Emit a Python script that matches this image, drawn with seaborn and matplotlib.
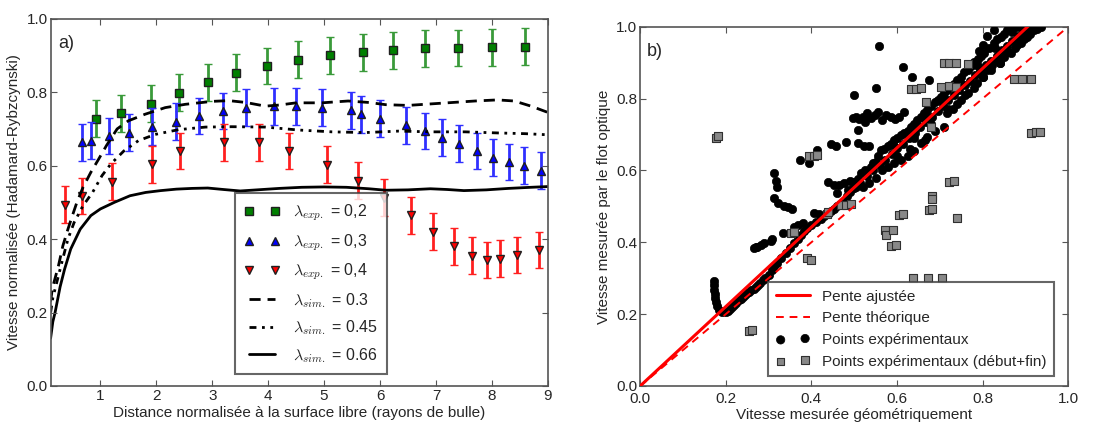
import numpy as np
import pandas as pd
import matplotlib
matplotlib.use("Agg")
import matplotlib.pyplot as plt
import seaborn as sns

# ---- panel a) : experimental points (distance, normalised velocity) ----
green_x = [0.93, 1.375, 1.91, 2.40, 2.92, 3.43, 3.98, 4.54, 5.11, 5.70, 6.24, 6.81, 7.40, 8.0, 8.6]
green_y = [0.728, 0.742, 0.769, 0.799, 0.827, 0.853, 0.871, 0.889, 0.900, 0.909, 0.914, 0.919, 0.920, 0.922, 0.924]

blue_x = [0.67, 0.84, 1.15, 1.52, 1.93, 2.35, 2.77, 3.20, 3.61, 4.10, 4.50, 4.97, 5.48, 5.66,
          6.0, 6.47, 6.80, 7.11, 7.42, 7.73, 8.02, 8.31, 8.58, 8.88]
blue_y = [0.663, 0.668, 0.681, 0.690, 0.706, 0.720, 0.735, 0.749, 0.758, 0.762, 0.762, 0.758, 0.751, 0.740,
          0.728, 0.710, 0.694, 0.676, 0.660, 0.640, 0.622, 0.610, 0.600, 0.586]

red_x = [0.375, 0.67, 1.21, 1.93, 2.43, 3.21, 3.83, 4.38, 5.05, 5.60, 6.08, 6.55, 6.95, 7.32,
         7.65, 7.92, 8.14, 8.45, 8.85]
red_y = [0.494, 0.517, 0.556, 0.604, 0.640, 0.663, 0.663, 0.640, 0.603, 0.559, 0.513, 0.465, 0.420, 0.380,
         0.355, 0.343, 0.347, 0.357, 0.370]

err = 0.05

# ---- panel a) : simulations ----
sim03_x = [0.11, 0.14, 0.17, 0.25, 0.33, 0.42, 0.5, 0.58, 0.69, 0.83, 0.97, 1.11, 1.3, 1.5, 1.8, 2.16,
           2.52, 3.0, 3.3, 3.6, 3.95, 4.2, 4.5, 4.96, 5.43, 5.8, 6.1, 6.5, 7.1, 7.7, 8.1, 8.4, 8.7, 9.0]
sim03_y = [0.23, 0.264, 0.282, 0.327, 0.382, 0.427, 0.464, 0.5, 0.541, 0.582, 0.618, 0.655, 0.7, 0.722, 0.74, 0.758,
           0.767, 0.775, 0.777, 0.772, 0.762, 0.765, 0.771, 0.771, 0.776, 0.772, 0.766, 0.764, 0.77, 0.776, 0.779, 0.776, 0.762, 0.745]

sim045_x = [0.11, 0.15, 0.19, 0.31, 0.42, 0.53, 0.69, 0.86, 1.03, 1.19, 1.42, 1.68, 1.98, 2.4, 2.88,
            3.35, 3.95, 4.54, 5.14, 5.73, 6.33, 6.92, 7.52, 8.11, 8.6, 9.0]
sim045_y = [0.2, 0.24, 0.264, 0.336, 0.4, 0.445, 0.491, 0.527, 0.573, 0.605, 0.64, 0.668, 0.685, 0.698, 0.705,
            0.706, 0.705, 0.697, 0.692, 0.69, 0.694, 0.692, 0.692, 0.689, 0.687, 0.684]

sim066_x = [0.11, 0.15, 0.19, 0.28, 0.36, 0.47, 0.64, 0.83, 1.0, 1.25, 1.53, 1.81, 2.08, 2.36, 2.64, 2.92,
            3.2, 3.5, 3.8, 4.2, 4.6, 5.0, 5.4, 5.8, 6.1, 6.5, 6.9, 7.2, 7.5, 7.9, 8.3, 8.7, 9.0]
sim066_y = [0.13, 0.175, 0.2, 0.27, 0.318, 0.373, 0.427, 0.464, 0.482, 0.5, 0.518, 0.527, 0.532, 0.536, 0.538, 0.539,
            0.535, 0.531, 0.534, 0.538, 0.541, 0.542, 0.541, 0.537, 0.533, 0.534, 0.537, 0.535, 0.532, 0.534, 0.538, 0.541, 0.543]

# ---- panel b) : optical flow vs geometric velocity ----
pts_geo = [0.173, 0.173, 0.173, 0.174, 0.175, 0.176, 0.179, 0.185, 0.192, 0.2, 0.205,
           0.21, 0.215, 0.22, 0.225, 0.23, 0.235, 0.24, 0.245, 0.25, 0.255, 0.26, 0.265, 0.27, 0.275, 0.28,
           0.286, 0.292, 0.3, 0.308, 0.313, 0.32, 0.329, 0.34, 0.35, 0.36, 0.368, 0.375, 0.383, 0.39, 0.4,
           0.41, 0.422, 0.43, 0.438, 0.445, 0.453, 0.46, 0.469, 0.475,
           0.266, 0.27, 0.274, 0.282, 0.29, 0.305, 0.309, 0.333, 0.36, 0.368, 0.38, 0.407, 0.418,
           0.313, 0.317, 0.32, 0.313, 0.322, 0.335, 0.345, 0.355,
           0.374, 0.395, 0.414, 0.447, 0.457, 0.48, 0.508, 0.523, 0.535, 0.508, 0.5, 0.551, 0.558, 0.613,
           0.636, 0.675,
           0.497, 0.505, 0.512, 0.52, 0.53, 0.54, 0.548, 0.556, 0.565, 0.575, 0.585, 0.595, 0.605, 0.617, 0.525,
           0.438, 0.453, 0.465, 0.477, 0.49, 0.5, 0.461, 0.485, 0.5, 0.51, 0.516, 0.525, 0.539, 0.545, 0.555,
           0.562, 0.57, 0.578, 0.585, 0.593, 0.6, 0.61, 0.617, 0.625, 0.632, 0.64, 0.648, 0.656, 0.663, 0.671,
           0.68, 0.688, 0.695, 0.703, 0.71, 0.718, 0.726, 0.733, 0.741, 0.75, 0.757, 0.765, 0.772, 0.78, 0.79,
           0.796, 0.804, 0.815, 0.827, 0.835, 0.843, 0.85, 0.858, 0.866, 0.88, 0.827, 0.81,
           0.52, 0.535, 0.55, 0.565, 0.58, 0.593, 0.61, 0.625, 0.64, 0.656, 0.665, 0.671, 0.69, 0.71, 0.718,
           0.73, 0.75, 0.765, 0.78, 0.788, 0.8, 0.811, 0.823, 0.835, 0.85, 0.866, 0.875, 0.889, 0.897, 0.905,
           0.912, 0.92, 0.928, 0.936, 0.792, 0.8, 0.82, 0.842, 0.86, 0.875, 0.741, 0.63,
           0.483, 0.49, 0.497, 0.505, 0.513, 0.53, 0.545, 0.56, 0.573, 0.588, 0.6, 0.615, 0.628, 0.643, 0.655,
           0.668, 0.682, 0.695, 0.707, 0.72, 0.733, 0.745, 0.758, 0.77, 0.783, 0.795, 0.808, 0.82, 0.833, 0.845,
           0.858, 0.87, 0.883, 0.895, 0.6, 0.64, 0.68, 0.72, 0.76, 0.8, 0.84, 0.88, 0.55, 0.59, 0.63, 0.67,
           0.71, 0.75, 0.79, 0.83, 0.87, 0.91, 0.9, 0.92, 0.925]
pts_flot = [0.293, 0.28, 0.268, 0.257, 0.246, 0.234, 0.222, 0.212, 0.206, 0.206, 0.21,
            0.215, 0.22, 0.225, 0.232, 0.238, 0.243, 0.248, 0.252, 0.258, 0.262, 0.266, 0.27, 0.276, 0.282, 0.287,
            0.295, 0.302, 0.31, 0.322, 0.335, 0.343, 0.355, 0.37, 0.385, 0.398, 0.41, 0.42, 0.432, 0.44, 0.448,
            0.456, 0.465, 0.472, 0.48, 0.487, 0.494, 0.5, 0.505, 0.51,
            0.383, 0.386, 0.388, 0.393, 0.397, 0.405, 0.41, 0.425, 0.444, 0.449, 0.455, 0.481, 0.478,
            0.593, 0.57, 0.555, 0.523, 0.51, 0.5, 0.497, 0.493,
            0.628, 0.62, 0.657, 0.674, 0.667, 0.68, 0.676, 0.667, 0.667, 0.713, 0.81, 0.829, 0.946, 0.889,
            0.861, 0.852,
            0.745, 0.75, 0.742, 0.748, 0.76, 0.745, 0.755, 0.762, 0.74, 0.755, 0.748, 0.742, 0.748, 0.762, 0.735,
            0.569, 0.56, 0.56, 0.565, 0.57, 0.569, 0.537, 0.545, 0.55, 0.575, 0.593, 0.6, 0.611, 0.62, 0.639,
            0.657, 0.66, 0.667, 0.675, 0.685, 0.69, 0.7, 0.704, 0.71, 0.722, 0.73, 0.74, 0.75, 0.76, 0.769,
            0.78, 0.79, 0.796, 0.805, 0.815, 0.824, 0.835, 0.84, 0.852, 0.86, 0.875, 0.88, 0.89, 0.903, 0.91,
            0.92, 0.926, 0.94, 0.954, 0.965, 0.972, 0.98, 0.991, 0.995, 1.0, 0.99, 0.975,
            0.555, 0.565, 0.58, 0.6, 0.61, 0.62, 0.63, 0.639, 0.655, 0.676, 0.685, 0.694, 0.71, 0.722, 0.759,
            0.77, 0.796, 0.815, 0.83, 0.843, 0.86, 0.88, 0.895, 0.907, 0.915, 0.926, 0.94, 0.954, 0.965, 0.972,
            0.98, 0.991, 0.995, 1.0, 0.934, 0.95, 0.88, 0.9, 0.93, 0.96, 0.785, 0.66,
            0.53, 0.54, 0.55, 0.555, 0.565, 0.585, 0.6, 0.615, 0.63, 0.645, 0.662, 0.675, 0.69, 0.705, 0.72,
            0.735, 0.75, 0.765, 0.78, 0.795, 0.81, 0.823, 0.838, 0.85, 0.865, 0.88, 0.893, 0.905, 0.92, 0.935,
            0.948, 0.96, 0.975, 0.988, 0.64, 0.69, 0.73, 0.77, 0.81, 0.86, 0.9, 0.95, 0.625, 0.67, 0.71, 0.75,
            0.8, 0.84, 0.89, 0.94, 0.985, 1.0, 0.995, 0.997, 1.0]

ends_geo = [0.178, 0.181, 0.395, 0.407, 0.414, 0.632, 0.644, 0.656, 0.710, 0.722, 0.738, 0.765,
            0.702, 0.722, 0.738, 0.667, 0.679, 0.874, 0.893, 0.913, 0.913, 0.924, 0.934,
            0.722, 0.734, 0.683, 0.683, 0.675, 0.683, 0.605, 0.613, 0.469, 0.48, 0.492,
            0.352, 0.36, 0.39, 0.398, 0.255, 0.262, 0.572, 0.575, 0.59, 0.587, 0.597,
            0.74, 0.637, 0.672, 0.705, 0.436, 0.44]
ends_flot = [0.69, 0.697, 0.639, 0.641, 0.643, 0.826, 0.827, 0.829, 0.898, 0.898, 0.898, 0.896,
             0.833, 0.834, 0.833, 0.792, 0.722, 0.856, 0.855, 0.854, 0.704, 0.706, 0.708,
             0.569, 0.571, 0.528, 0.52, 0.491, 0.493, 0.477, 0.478, 0.505, 0.505, 0.507,
             0.425, 0.428, 0.356, 0.352, 0.153, 0.155, 0.434, 0.42, 0.435, 0.39, 0.392,
             0.467, 0.30, 0.30, 0.30, 0.48, 0.485]

fit_slope = 1.105
theo_slope = 1.0
line_x = [0.0, 1.0]

sns.set_style("ticks")
plt.rcParams['font.family'] = ['Liberation Sans', 'DejaVu Sans']
plt.rcParams['mathtext.fontset'] = 'cm'
plt.rcParams['xtick.direction'] = 'in'
plt.rcParams['ytick.direction'] = 'in'
plt.rcParams['xtick.top'] = True
plt.rcParams['ytick.right'] = True

fig = plt.figure(figsize=(11, 4.26), dpi=100)
ax1 = fig.add_axes([0.046, 0.094, 0.452, 0.862])
ax2 = fig.add_axes([0.582, 0.094, 0.389, 0.843])

# panel a
exp_sets = [
    (green_x, green_y, 's', 'green', '#3a9a3a', r'$\lambda_{exp.}$ = 0,2'),
    (blue_x, blue_y, '^', 'blue', '#3030ff', r'$\lambda_{exp.}$ = 0,3'),
    (red_x, red_y, 'v', 'red', '#ff2020', r'$\lambda_{exp.}$ = 0,4'),
]
for xs, ys, mk, col, ecol, lab in exp_sets:
    ax1.errorbar(xs, ys, yerr=err, fmt='none', ecolor=ecol, elinewidth=2, capsize=3, capthick=1)
    ax1.plot(xs, ys, linestyle='none', marker=mk, color=col, markeredgecolor='#202020',
             markersize=5.5, label=lab)

sim = pd.DataFrame({'x': sim03_x, 'y': sim03_y})
sns.lineplot(data=sim, x='x', y='y', ax=ax1, color='k', lw=2, linestyle=(0, (4, 2.5)),
             label=r'$\lambda_{sim.}$ = 0.3')
sim = pd.DataFrame({'x': sim045_x, 'y': sim045_y})
sns.lineplot(data=sim, x='x', y='y', ax=ax1, color='k', lw=2, linestyle=(0, (2.5, 2, 1, 2, 1, 2)),
             label=r'$\lambda_{sim.}$ = 0.45')
sim = pd.DataFrame({'x': sim066_x, 'y': sim066_y})
sns.lineplot(data=sim, x='x', y='y', ax=ax1, color='k', lw=2, label=r'$\lambda_{sim.}$ = 0.66')

ax1.set_xlim(0.11, 9)
ax1.set_ylim(0, 1)
ax1.set_xticks(range(1, 10))
ax1.set_yticks(np.arange(0, 1.01, 0.2))
ax1.set_xlabel("Distance normalisée à la surface libre (rayons de bulle)", fontsize=11, labelpad=2)
ax1.set_ylabel("Vitesse normalisée (Hadamard-Rybzcynski)", fontsize=11, labelpad=4)
ax1.text(0.015, 0.955, "a)", transform=ax1.transAxes, fontsize=13, va='top')
leg = ax1.legend(loc='lower left', bbox_to_anchor=(0.355, 0.01), numpoints=2, fontsize=11.5,
                 fancybox=False, labelspacing=0.55, handlelength=2.2, borderpad=0.6)
leg.get_frame().set_edgecolor('#404040')
leg.get_frame().set_linewidth(1.5)

# panel b
sns.lineplot(x=line_x, y=[fit_slope * v for v in line_x], ax=ax2, color='red', lw=2.2,
             label="Pente ajustée", zorder=4)
sns.lineplot(x=line_x, y=[theo_slope * v for v in line_x], ax=ax2, color='red', lw=1.4,
             linestyle=(0, (4, 3)), label="Pente théorique", zorder=4)
sns.scatterplot(x=pts_geo, y=pts_flot, ax=ax2, color='black', marker='o', s=36,
                edgecolor='black', linewidth=0.5, label="Points expérimentaux", zorder=3)
sns.scatterplot(x=ends_geo, y=ends_flot, ax=ax2, color='#888888', marker='s', s=30,
                edgecolor='#303030', linewidth=0.8, label="Points expérimentaux (début+fin)", zorder=3)

ax2.set_xlim(0, 1)
ax2.set_ylim(0, 1)
ax2.set_xticks(np.arange(0, 1.01, 0.2))
ax2.set_yticks(np.arange(0, 1.01, 0.2))
ax2.set_xlabel("Vitesse mesurée géométriquement", fontsize=11, labelpad=2)
ax2.set_ylabel("Vitesse mesurée par le flot optique", fontsize=11, labelpad=4)
ax2.text(0.015, 0.955, "b)", transform=ax2.transAxes, fontsize=13, va='top')
leg = ax2.legend(loc='lower right', bbox_to_anchor=(0.985, 0.006), scatterpoints=2, fontsize=11,
                 fancybox=False, labelspacing=0.5, handlelength=2.2, borderpad=0.5)
leg.get_frame().set_edgecolor('#404040')
leg.get_frame().set_linewidth(1.5)

for ax in (ax1, ax2):
    ax.tick_params(labelsize=11, length=4, color='#555555', pad=2)
    for s in ax.spines.values():
        s.set_color('#555555')
        s.set_linewidth(1.2)
    ax.set_axisbelow(False)
ax2.tick_params(axis='x', pad=4)

plt.savefig("out.png", dpi=100)
plt.close()
